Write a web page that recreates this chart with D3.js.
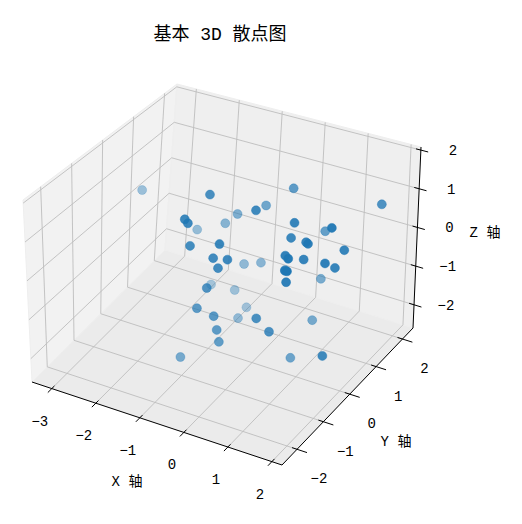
<!DOCTYPE html>
<html><head><meta charset="utf-8">
<script src="https://cdn.jsdelivr.net/npm/d3@7"></script>
<style>body{margin:0;background:#fff}svg{display:block}text{font-family:"Liberation Mono","Noto Sans CJK SC",monospace;fill:#000}</style>
</head><body><svg id="c" width="522" height="524"></svg>
<script>
const xs=[-3.30,-0.96,0.13,1.99,-0.48,-1.12,0.08,-1.04,-0.97,-2.02,-1.39,0.95,0.88,1.79,0.88,1.22,1.41,-0.92,-0.26,1.93,-0.40,-0.08,-0.93,-0.55,1.06,1.28,1.32,-0.29,1.80,1.88,0.00,1.21,1.41,0.82,1.24,-1.66,-0.54,-1.12,-0.76,-0.84,-0.38,-0.73,0.58,0.95,-0.31,0.87,-0.26,-1.13,0.92,2.08];
const ys=[1.16,-0.09,1.16,1.41,1.16,1.16,-0.09,-0.83,-0.83,1.16,1.16,-0.09,1.16,-0.09,-0.09,-0.09,-0.33,-0.83,-0.83,0.16,-0.83,-0.83,1.16,1.16,-0.58,-0.83,-0.33,-0.83,-0.33,-0.09,1.16,-0.83,-1.08,1.16,-0.83,1.16,-0.83,1.16,-0.83,1.16,-0.83,0.66,-0.83,0.66,-0.83,-0.83,-0.83,-0.83,-0.09,-0.83];
const zs=[0.01,1.51,1.20,1.20,0.55,0.11,1.44,1.32,1.24,-0.62,-0.23,1.40,0.32,1.54,0.99,0.99,1.17,0.67,0.94,0.85,0.53,0.60,-1.16,-0.99,0.92,1.08,0.74,0.31,0.80,0.55,-0.99,0.75,0.97,-0.94,0.47,-1.97,-0.29,-1.92,-0.89,-2.28,-0.96,-2.17,-0.68,-1.62,-1.29,-0.92,-1.58,-2.29,-2.08,-1.11];
const xTicks=[-3,-2,-1,0,1,2], yTicks=[-2,-1,0,1,2], zTicks=[-2,-1,0,1,2];
const title="基本 3D 散点图";

const svg=d3.select("#c");
const sx=d3.scaleLinear().domain([-3.45,2.23]).range([0,1]);
const sy=d3.scaleLinear().domain([-2.57,2.40]).range([0,1]);
const sz=d3.scaleLinear().domain([-2.6,2.08]).range([0,1]);
const C={"000":[32,382],"100":[282,465],"110":[413,328],"010":[165,250],
         "001":[23,200],"101":[283,277],"111":[421,147],"011":[177,84]};
function P(a,b,c){
  const r=[0,0];
  for(const i of [0,1])for(const j of [0,1])for(const k of [0,1]){
    const w=(i?a:1-a)*(j?b:1-b)*(k?c:1-c), p=C[""+i+j+k];
    r[0]+=w*p[0]; r[1]+=w*p[1];
  }
  return r;
}
const line=d3.line();
const panes=[[[0,0,0],[0,1,0],[0,1,1],[0,0,1]],[[0,1,0],[1,1,0],[1,1,1],[0,1,1]],[[0,0,0],[1,0,0],[1,1,0],[0,1,0]]];
panes.forEach((pn,i)=>svg.append("path").attr("d",line(pn.map(q=>P(...q)))+"Z").attr("fill",i==2?"#ebebeb":i==0?"#f2f2f2":"#efefef").attr("stroke","#eeeeee"));
const g=svg.append("g").attr("stroke","#bdbdbd").attr("stroke-width",0.9).attr("fill","none");
function seg(p,q){g.append("path").attr("d",line([P(...p),P(...q)]));}
xTicks.forEach(v=>{const a=sx(v);seg([a,0,0],[a,1,0]);seg([a,1,0],[a,1,1]);});
yTicks.forEach(v=>{const b=sy(v);seg([0,b,0],[1,b,0]);seg([0,b,0],[0,b,1]);});
zTicks.forEach(v=>{const c=sz(v);seg([0,0,c],[0,1,c]);seg([0,1,c],[1,1,c]);});
const ax=svg.append("g").attr("stroke","#000").attr("stroke-width",1).attr("fill","none");
function aseg(p,q){ax.append("path").attr("d",line([P(...p),P(...q)]));}
aseg([0,0,0],[1,0,0]);aseg([1,0,0],[1,1,0]);aseg([1,1,0],[1,1,1]);
const T=svg.append("g").attr("font-size",14).attr("text-anchor","middle");
const fmt=v=>String(v).replace("-","−");
xTicks.forEach(v=>{const a=sx(v);aseg([a,-0.03,0],[a,0.02,0]);const p=P(a,0,0);
  T.append("text").attr("x",p[0]-12).attr("y",p[1]+37).text(fmt(v));});
yTicks.forEach(v=>{const b=sy(v);aseg([1.04,b,0],[0.98,b,0]);const p=P(1,b,0);
  T.append("text").attr("x",p[0]+22).attr("y",p[1]+34).text(fmt(v));});
zTicks.forEach(v=>{const c=sz(v);aseg([1.03,1,c],[0.98,1,c]);const p=P(1,1,c);
  T.append("text").attr("x",p[0]+32).attr("y",p[1]+5).text(fmt(v));});
T.append("text").attr("x",127).attr("y",486).text("X 轴");
T.append("text").attr("x",396).attr("y",446).text("Y 轴");
T.append("text").attr("x",485).attr("y",237).text("Z 轴");
svg.append("text").attr("x",220).attr("y",40).attr("font-size",18).attr("text-anchor","middle").text(title);
const pts=xs.map((x,i)=>{const a=sx(x),b=sy(ys[i]),c=sz(zs[i]);return {p:P(a,b,c),d:0.433*a-0.75*b+0.5*c};});
const dmin=d3.min(pts,d=>d.d),dmax=d3.max(pts,d=>d.d);
pts.sort((u,v)=>u.d-v.d);
const op=d=>0.35+0.65*(d.d-dmin)/(dmax-dmin);
svg.append("g").selectAll("circle").data(pts).join("circle")
 .attr("cx",d=>d.p[0]).attr("cy",d=>d.p[1]).attr("r",4.5)
 .attr("fill","#1f77b4").attr("stroke","#1f77b4").attr("stroke-width",0.5)
 .attr("fill-opacity",op).attr("stroke-opacity",op);
</script></body></html>
